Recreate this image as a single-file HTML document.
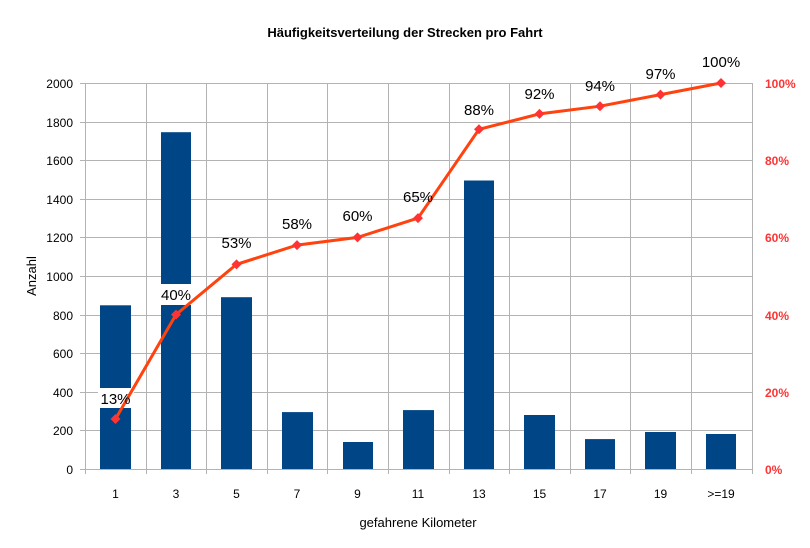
<!DOCTYPE html>
<html><head><meta charset="utf-8"><style>body{margin:0;background:#fff}svg{display:block}</style></head>
<body>
<svg width="810" height="548" xmlns="http://www.w3.org/2000/svg" font-family="Liberation Sans, DejaVu Sans, sans-serif">
<rect width="810" height="548" fill="#fff"/>
<text x="405" y="37" text-anchor="middle" font-size="13" font-weight="bold">Häufigkeitsverteilung der Strecken pro Fahrt</text>
<g stroke="#b3b3b3" stroke-width="1">
<line x1="80" y1="83.5" x2="752" y2="83.5"/>
<line x1="80" y1="122.5" x2="752" y2="122.5"/>
<line x1="80" y1="160.5" x2="752" y2="160.5"/>
<line x1="80" y1="199.5" x2="752" y2="199.5"/>
<line x1="80" y1="237.5" x2="752" y2="237.5"/>
<line x1="80" y1="276.5" x2="752" y2="276.5"/>
<line x1="80" y1="315.5" x2="752" y2="315.5"/>
<line x1="80" y1="353.5" x2="752" y2="353.5"/>
<line x1="80" y1="392.5" x2="752" y2="392.5"/>
<line x1="80" y1="430.5" x2="752" y2="430.5"/>
<line x1="80" y1="469.5" x2="752" y2="469.5"/>
<line x1="85.5" y1="83" x2="85.5" y2="474"/>
<line x1="146.5" y1="83" x2="146.5" y2="474"/>
<line x1="206.5" y1="83" x2="206.5" y2="474"/>
<line x1="267.5" y1="83" x2="267.5" y2="474"/>
<line x1="327.5" y1="83" x2="327.5" y2="474"/>
<line x1="388.5" y1="83" x2="388.5" y2="474"/>
<line x1="449.5" y1="83" x2="449.5" y2="474"/>
<line x1="509.5" y1="83" x2="509.5" y2="474"/>
<line x1="570.5" y1="83" x2="570.5" y2="474"/>
<line x1="630.5" y1="83" x2="630.5" y2="474"/>
<line x1="691.5" y1="83" x2="691.5" y2="474"/>
<line x1="752.5" y1="83" x2="752.5" y2="474"/>
</g>
<g font-size="12" text-anchor="end" fill="#000">
<text x="73" y="88">2000</text><text x="73" y="127">1800</text><text x="73" y="165">1600</text>
<text x="73" y="204">1400</text><text x="73" y="242">1200</text><text x="73" y="281">1000</text>
<text x="73" y="320">800</text><text x="73" y="358">600</text><text x="73" y="397">400</text>
<text x="73" y="435">200</text><text x="73" y="474">0</text>
</g>
<g font-size="12" fill="#ff3333" font-weight="bold">
<text x="765" y="88">100%</text><text x="765" y="165">80%</text><text x="765" y="242">60%</text>
<text x="765" y="320">40%</text><text x="765" y="397">20%</text><text x="765" y="474">0%</text>
</g>
<g font-size="12" text-anchor="middle">
<text x="115.5" y="498">1</text><text x="176" y="498">3</text><text x="236.5" y="498">5</text>
<text x="297" y="498">7</text><text x="357.5" y="498">9</text><text x="418" y="498">11</text>
<text x="479" y="498">13</text><text x="539.5" y="498">15</text><text x="600" y="498">17</text>
<text x="660.5" y="498">19</text><text x="721" y="498">&gt;=19</text>
</g>
<text x="418" y="527" font-size="13" text-anchor="middle">gefahrene Kilometer</text>
<text transform="translate(36,276) rotate(-90)" font-size="13" text-anchor="middle">Anzahl</text>
<g fill="#004586">
<rect x="100" y="305.3" width="31" height="163.7"/>
<rect x="161" y="132.2" width="30" height="336.8"/>
<rect x="221" y="297.2" width="31" height="171.8"/>
<rect x="282" y="412.1" width="31" height="56.9"/>
<rect x="343" y="442" width="30" height="27"/>
<rect x="403" y="410.1" width="31" height="58.9"/>
<rect x="464" y="180.5" width="30" height="288.5"/>
<rect x="524" y="415" width="31" height="54"/>
<rect x="585" y="439.1" width="30" height="29.9"/>
<rect x="645" y="432" width="31" height="37"/>
<rect x="706" y="434" width="30" height="35"/>
</g>
<rect x="98" y="388" width="36" height="20" fill="#fff"/>
<rect x="158" y="284" width="36" height="21" fill="#fff"/>
<polyline fill="none" stroke="#ff420e" stroke-width="3" points="115.5,419 176,314.6 236.5,264.4 297,245.1 357.5,237.4 418,218.1 479,129.3 539.5,113.9 600,106.2 660.5,94.6 721,83"/>
<g fill="#ff3333">
<path d="M115.5,414l5,5-5,5-5-5z"/><path d="M176,309.6l5,5-5,5-5-5z"/><path d="M236.5,259.4l5,5-5,5-5-5z"/>
<path d="M297,240.1l5,5-5,5-5-5z"/><path d="M357.5,232.4l5,5-5,5-5-5z"/><path d="M418,213.1l5,5-5,5-5-5z"/>
<path d="M479,124.3l5,5-5,5-5-5z"/><path d="M539.5,108.9l5,5-5,5-5-5z"/><path d="M600,101.2l5,5-5,5-5-5z"/>
<path d="M660.5,89.6l5,5-5,5-5-5z"/><path d="M721,78l5,5-5,5-5-5z"/>
</g>
<g font-size="15" text-anchor="middle">
<text x="115.5" y="404">13%</text><text x="176" y="300">40%</text><text x="236.5" y="248">53%</text>
<text x="297" y="229">58%</text><text x="357.5" y="221">60%</text><text x="418" y="202">65%</text>
<text x="479" y="115">88%</text><text x="539.5" y="99">92%</text><text x="600" y="91">94%</text>
<text x="660.5" y="79">97%</text><text x="721" y="67">100%</text>
</g>
</svg>
</body></html>
